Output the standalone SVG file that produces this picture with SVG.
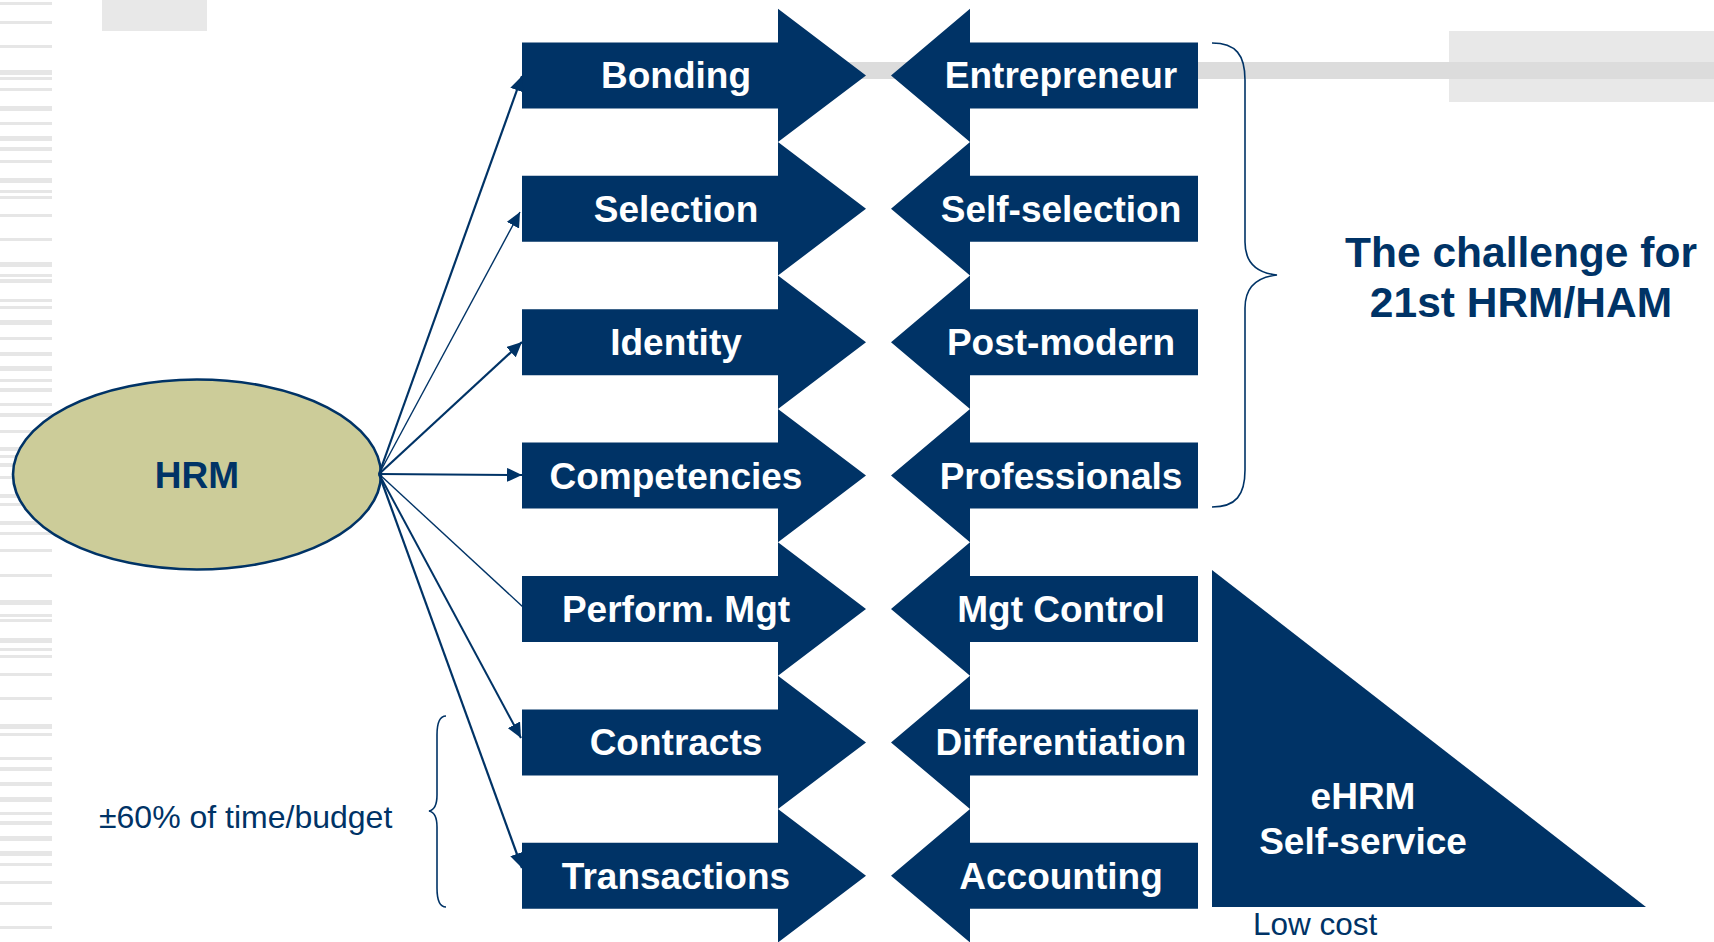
<svg xmlns="http://www.w3.org/2000/svg" xmlns:xlink="http://www.w3.org/1999/xlink" width="1714" height="942" viewBox="0 0 1714 942">
<defs>
<style>
.blk{fill:#003366}
.lbl{font-family:"Liberation Sans",Arial,sans-serif;font-weight:bold;font-size:37px;fill:#ffffff;text-anchor:middle}
.dk{font-family:"Liberation Sans",Arial,sans-serif;fill:#003366}
.con{stroke:#003366;fill:none}
.brace{stroke:#003366;stroke-width:1.6;fill:none}
.stripe{fill:#e6e6e6}
</style>
<path id="la" d="M522,-33 L778,-33 L778,-66.7 L866,0 L778,66.7 L778,33 L522,33 Z"/>
<path id="ra" d="M1198,-33 L970,-33 L970,-66.7 L891,0 L970,66.7 L970,33 L1198,33 Z"/>
<marker id="ah" markerUnits="userSpaceOnUse" markerWidth="16" markerHeight="14" refX="15" refY="7" orient="auto">
<path d="M0,0 L15,7 L0,14 Z" fill="#003366"/>
</marker>
</defs>
<rect width="1714" height="942" fill="#ffffff"/>
<g id="background">
<g id="stripes">
<rect class="stripe" x="0" y="2" width="52" height="3"/>
<rect class="stripe" x="0" y="21" width="52" height="3"/>
<rect class="stripe" x="0" y="45" width="52" height="3"/>
<rect class="stripe" x="0" y="70" width="52" height="5"/>
<rect class="stripe" x="0" y="77" width="52" height="3"/>
<rect class="stripe" x="0" y="88" width="52" height="3"/>
<rect class="stripe" x="0" y="106" width="52" height="5"/>
<rect class="stripe" x="0" y="122" width="52" height="3"/>
<rect class="stripe" x="0" y="136" width="52" height="5"/>
<rect class="stripe" x="0" y="147" width="52" height="4"/>
<rect class="stripe" x="0" y="160" width="52" height="3"/>
<rect class="stripe" x="0" y="178" width="52" height="5"/>
<rect class="stripe" x="0" y="190" width="52" height="3"/>
<rect class="stripe" x="0" y="196" width="52" height="3"/>
<rect class="stripe" x="0" y="214" width="52" height="3"/>
<rect class="stripe" x="0" y="238" width="52" height="3"/>
<rect class="stripe" x="0" y="262" width="52" height="5"/>
<rect class="stripe" x="0" y="274" width="52" height="3"/>
<rect class="stripe" x="0" y="279" width="52" height="4"/>
<rect class="stripe" x="0" y="299" width="52" height="3"/>
<rect class="stripe" x="0" y="306" width="52" height="3"/>
<rect class="stripe" x="0" y="320" width="52" height="5"/>
<rect class="stripe" x="0" y="337" width="52" height="3"/>
<rect class="stripe" x="0" y="352" width="52" height="4"/>
<rect class="stripe" x="0" y="366" width="52" height="5"/>
<rect class="stripe" x="0" y="379" width="52" height="3"/>
<rect class="stripe" x="0" y="388" width="52" height="4"/>
<rect class="stripe" x="0" y="403" width="52" height="3"/>
<rect class="stripe" x="0" y="413" width="52" height="4"/>
<rect class="stripe" x="0" y="430" width="52" height="3"/>
<rect class="stripe" x="0" y="447" width="52" height="4"/>
<rect class="stripe" x="0" y="455" width="52" height="3"/>
<rect class="stripe" x="0" y="463" width="52" height="4"/>
<rect class="stripe" x="0" y="476" width="52" height="3"/>
<rect class="stripe" x="0" y="494" width="52" height="4"/>
<rect class="stripe" x="0" y="503" width="52" height="3"/>
<rect class="stripe" x="0" y="521" width="52" height="4"/>
<rect class="stripe" x="0" y="532" width="52" height="3"/>
<rect class="stripe" x="0" y="549" width="52" height="3"/>
<rect class="stripe" x="0" y="574" width="52" height="3"/>
<rect class="stripe" x="0" y="600" width="52" height="5"/>
<rect class="stripe" x="0" y="614" width="52" height="3"/>
<rect class="stripe" x="0" y="619" width="52" height="3"/>
<rect class="stripe" x="0" y="638" width="52" height="5"/>
<rect class="stripe" x="0" y="648" width="52" height="3"/>
<rect class="stripe" x="0" y="655" width="52" height="3"/>
<rect class="stripe" x="0" y="673" width="52" height="3"/>
<rect class="stripe" x="0" y="697" width="52" height="3"/>
<rect class="stripe" x="0" y="724" width="52" height="5"/>
<rect class="stripe" x="0" y="733" width="52" height="3"/>
<rect class="stripe" x="0" y="757" width="52" height="3"/>
<rect class="stripe" x="0" y="767" width="52" height="4"/>
<rect class="stripe" x="0" y="782" width="52" height="4"/>
<rect class="stripe" x="0" y="797" width="52" height="5"/>
<rect class="stripe" x="0" y="812" width="52" height="3"/>
<rect class="stripe" x="0" y="821" width="52" height="4"/>
<rect class="stripe" x="0" y="836" width="52" height="5"/>
<rect class="stripe" x="0" y="851" width="52" height="5"/>
<rect class="stripe" x="0" y="863" width="52" height="3"/>
<rect class="stripe" x="0" y="881" width="52" height="3"/>
<rect class="stripe" x="0" y="902" width="52" height="3"/>
<rect class="stripe" x="0" y="926" width="52" height="3"/>
</g>
<rect x="102" y="0" width="105" height="31" fill="#e8e8e8"/>
<rect x="1449" y="31" width="265" height="71" fill="#e8e8e8"/>
<rect x="780" y="62" width="934" height="17" fill="#dcdcdc"/>
</g>
<g id="hrm">
<ellipse cx="197" cy="474.5" rx="184" ry="95" fill="#cccc99" stroke="#003366" stroke-width="2.6"/>
<text class="dk" x="197" y="488" font-size="37" font-weight="bold" text-anchor="middle">HRM</text>
</g>
<g id="bonding" transform="translate(0,75.4)"><use xlink:href="#la" class="blk"/><text class="lbl" x="676" y="13">Bonding</text></g>
<g id="selection" transform="translate(0,208.8)"><use xlink:href="#la" class="blk"/><text class="lbl" x="676" y="13">Selection</text></g>
<g id="identity" transform="translate(0,342.2)"><use xlink:href="#la" class="blk"/><text class="lbl" x="676" y="13">Identity</text></g>
<g id="competencies" transform="translate(0,475.6)"><use xlink:href="#la" class="blk"/><text class="lbl" x="676" y="13">Competencies</text></g>
<g id="perform" transform="translate(0,609)"><use xlink:href="#la" class="blk"/><text class="lbl" x="676" y="13">Perform. Mgt</text></g>
<g id="contracts" transform="translate(0,742.4)"><use xlink:href="#la" class="blk"/><text class="lbl" x="676" y="13">Contracts</text></g>
<g id="transactions" transform="translate(0,875.8)"><use xlink:href="#la" class="blk"/><text class="lbl" x="676" y="13">Transactions</text></g>
<g id="entrepreneur" transform="translate(0,75.4)"><use xlink:href="#ra" class="blk"/><text class="lbl" x="1061" y="13">Entrepreneur</text></g>
<g id="self-selection" transform="translate(0,208.8)"><use xlink:href="#ra" class="blk"/><text class="lbl" x="1061" y="13">Self-selection</text></g>
<g id="post-modern" transform="translate(0,342.2)"><use xlink:href="#ra" class="blk"/><text class="lbl" x="1061" y="13">Post-modern</text></g>
<g id="professionals" transform="translate(0,475.6)"><use xlink:href="#ra" class="blk"/><text class="lbl" x="1061" y="13">Professionals</text></g>
<g id="mgt-control" transform="translate(0,609)"><use xlink:href="#ra" class="blk"/><text class="lbl" x="1061" y="13">Mgt Control</text></g>
<g id="differentiation" transform="translate(0,742.4)"><use xlink:href="#ra" class="blk"/><text class="lbl" x="1061" y="13">Differentiation</text></g>
<g id="accounting" transform="translate(0,875.8)"><use xlink:href="#ra" class="blk"/><text class="lbl" x="1061" y="13">Accounting</text></g>
<g id="ehrm">
<polygon points="1212,570 1212,907 1646,907" class="blk"/>
<text class="lbl" x="1363" y="809">eHRM</text>
<text class="lbl" x="1363" y="854">Self-service</text>
</g>
<g id="challenge">
<path class="brace" d="M1212,43 C1236,43 1245,55 1245,80 L1245,242 C1245,263 1257,273 1277,275 C1257,277 1245,287 1245,308 L1245,470 C1245,495 1236,507 1212,507"/>
<text class="dk" x="1521" y="267" font-size="42.5" font-weight="bold" text-anchor="middle">The challenge for</text>
<text class="dk" x="1521" y="317" font-size="42.5" font-weight="bold" text-anchor="middle">21st HRM/HAM</text>
</g>
<g id="budget">
<path class="brace" d="M446,716 C440,716 437,722 437,735 L437,795 C437,805 434,810 429,811 C434,812 437,817 437,827 L437,888 C437,900 440,907 446,907"/>
<text class="dk" x="99" y="828" font-size="32">±60% of time/budget</text>
</g>
<g id="lowcost">
<text class="dk" x="1253" y="935" font-size="31.5">Low cost</text>
</g>
<g id="connectors">
<line class="con" x1="379" y1="474" x2="522" y2="76" stroke-width="2.2" marker-end="url(#ah)"/>
<line class="con" x1="379" y1="474" x2="520" y2="212" stroke-width="1.4" marker-end="url(#ah)"/>
<line class="con" x1="379" y1="474" x2="522" y2="342" stroke-width="2.2" marker-end="url(#ah)"/>
<line class="con" x1="379" y1="474" x2="522" y2="475" stroke-width="2" marker-end="url(#ah)"/>
<line class="con" x1="379" y1="474" x2="523" y2="607" stroke-width="1.4"/>
<line class="con" x1="379" y1="474" x2="521" y2="738" stroke-width="2" marker-end="url(#ah)"/>
<line class="con" x1="379" y1="474" x2="522" y2="868" stroke-width="2.2" marker-end="url(#ah)"/>
</g>
</svg>
